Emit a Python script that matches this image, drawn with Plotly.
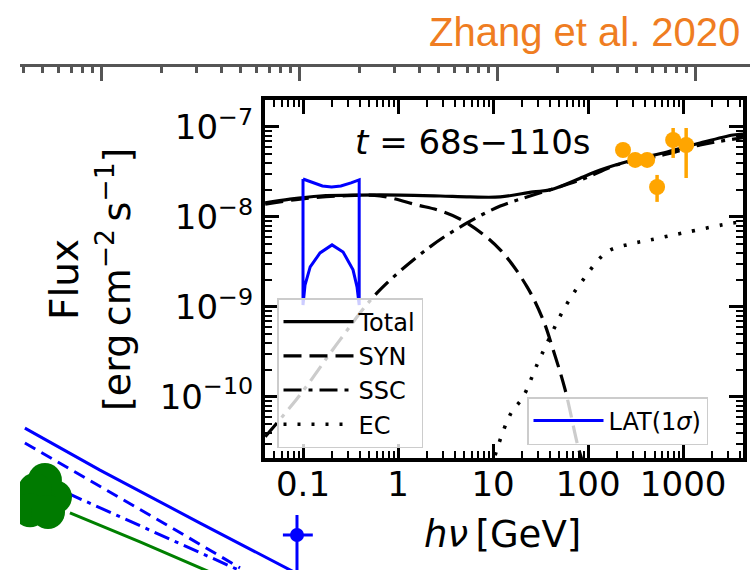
import plotly.graph_objects as go

# ---- model SED components (E in GeV, flux in erg cm^-2 s^-1) ----
total_E = [0.04, 0.073, 0.151, 0.398, 1.05, 2.77, 5.73, 11.9, 26.4, 39.8, 88.5, 134, 298, 679, 1510, 3357, 4266]
total_F = [1.43e-8, 1.58e-8, 1.71e-8, 1.75e-8, 1.75e-8, 1.71e-8, 1.67e-8, 1.67e-8, 1.90e-8, 2.0e-8,
           2.78e-8, 3.33e-8, 4.30e-8, 5.27e-8, 6.64e-8, 8.15e-8, 8.36e-8]

syn_E = [0.04, 0.093, 0.245, 0.647, 1.58, 2.77, 5.32, 11.9, 22.8, 33.6, 42.9, 57.3, 78.5, 89.1]
syn_F = [1.39e-8, 1.58e-8, 1.71e-8, 1.71e-8, 1.36e-8, 1.17e-8, 8.57e-9, 4.30e-9, 1.67e-9, 7.18e-10,
         3.33e-10, 1.20e-10, 2.78e-11, 1.78e-11]

ssc_E = [0.04, 0.093, 0.245, 0.601, 2.17, 5.32, 11.9, 26.4, 88.5, 202, 679, 1510, 4266]
ssc_F = [3.6e-11, 1.05e-10, 4.30e-10, 1.43e-9, 4.65e-9, 8.57e-9, 1.32e-8, 1.75e-8, 2.64e-8, 3.8e-8,
         5.0e-8, 6.31e-8, 7.6e-8]

ec_E = [10.5, 15.1, 20.7, 29.0, 39.8, 57.3, 88.5, 158, 277, 450, 1000, 3357, 4266]
ec_F = [2.24e-11, 6.3e-11, 1.0e-10, 2.27e-10, 4.65e-10, 1.0e-9, 2.0e-9, 4.08e-9, 5.0e-9, 5.55e-9,
        6.64e-9, 8.57e-9, 8.79e-9]

# ---- LAT 1-sigma butterfly ----
lat_E_upper = [0.1, 0.13, 0.16, 0.2, 0.25, 0.32, 0.39]
lat_F_upper = [2.64e-8, 2.39e-8, 2.21e-8, 2.15e-8, 2.21e-8, 2.39e-8, 2.58e-8]
lat_E_lower = [0.39, 0.37, 0.336, 0.264, 0.202, 0.151, 0.119, 0.105, 0.1]
lat_F_lower = [1.05e-9, 1.67e-9, 2.58e-9, 4.08e-9, 4.89e-9, 3.98e-9, 2.78e-9, 1.75e-9, 1.05e-9]

# ---- VHE data points ----
obs_E = [233, 313, 418, 532, 785, 1076]
obs_F = [5.55e-8, 4.30e-8, 4.30e-8, 2.15e-8, 7.17e-8, 6.31e-8]
obs_F_hi = [6.2e-8, 4.8e-8, 4.8e-8, 2.93e-8, 9.75e-8, 9.75e-8]
obs_F_lo = [5.0e-8, 3.9e-8, 3.9e-8, 1.47e-8, 4.53e-8, 2.71e-8]

# ---- axis ticks ----
x_tickvals = [0.1, 1, 10, 100, 1000]
x_ticktext = ["0.1", "1", "10", "100", "1000"]
y_tickvals = [1e-10, 1e-9, 1e-8, 1e-7]
y_ticktext = ["10<sup>−10</sup>", "10<sup>−9</sup>", "10<sup>−8</sup>", "10<sup>−7</sup>"]

# ---- panel underneath (light curve behind the SED) ----
bg_solid_x = [0.408, 0.977, 3.13, 10.0]
bg_solid_y = [2.45e-4, 9.3e-5, 2.75e-5, 8.3e-6]
bg_dash_x = [0.408, 0.977, 2.13, 4.98]
bg_dash_y = [1.74e-4, 6.46e-5, 2.63e-5, 9.8e-6]
bg_dashdot_x = [0.666, 1.748, 5.59]
bg_dashdot_y = [5.5e-5, 2.34e-5, 8.3e-6]
bg_green_x = [0.689, 1.556, 3.51]
bg_green_y = [3.47e-5, 1.78e-5, 8.9e-6]
bg_blob_x = [0.579, 0.515, 0.459, 0.433, 0.534]
bg_blob_y = [5.0e-5, 7.4e-5, 5.9e-5, 3.7e-5, 3.55e-5]
bg_pt_x = [9.66]
bg_pt_y = [2.09e-5]

W, H = 753, 570
FONT = "DejaVu Sans"
THIN = "\u2009"


def minor_vals(lo, hi):
    vals = []
    for k in range(lo, hi + 1):
        for m in range(2, 10):
            vals.append(m * 10.0 ** k)
    return vals


fig = go.Figure()

# underlying panel
bg_common = dict(xaxis="x2", yaxis="y2", mode="lines", showlegend=False, hoverinfo="skip")
fig.add_trace(go.Scatter(x=bg_green_x, y=bg_green_y, line=dict(color="#008000", width=3), **bg_common))
fig.add_trace(go.Scatter(x=bg_solid_x, y=bg_solid_y, line=dict(color="#0000ff", width=3), **bg_common))
fig.add_trace(go.Scatter(x=bg_dash_x, y=bg_dash_y, line=dict(color="#0000ff", width=3, dash="12px,7px"), **bg_common))
fig.add_trace(go.Scatter(x=bg_dashdot_x, y=bg_dashdot_y, line=dict(color="#0000ff", width=3, dash="16px,6px,4px,6px"), **bg_common))
fig.add_trace(go.Scatter(x=bg_blob_x, y=bg_blob_y, xaxis="x2", yaxis="y2", mode="markers",
                         marker=dict(color="#007a00", size=34), showlegend=False, hoverinfo="skip"))
fig.add_trace(go.Scatter(x=bg_pt_x, y=bg_pt_y, xaxis="x2", yaxis="y2", mode="markers",
                         marker=dict(color="#0000ff", size=14),
                         error_x=dict(type="data", array=[1.95], arrayminus=[1.46], color="#0000ff", thickness=3, width=0),
                         error_y=dict(type="data", array=[1.22e-5], arrayminus=[1.5e-5], color="#0000ff", thickness=3, width=0),
                         showlegend=False, hoverinfo="skip"))

# SED model curves
fig.add_trace(go.Scatter(x=total_E, y=total_F, mode="lines", name="Total", line_shape="spline",
                         line=dict(color="black", width=3.2)))
fig.add_trace(go.Scatter(x=syn_E, y=syn_F, mode="lines", name="SYN", line_shape="spline",
                         line=dict(color="black", width=3.2, dash="18px,8px")))
fig.add_trace(go.Scatter(x=ssc_E, y=ssc_F, mode="lines", name="SSC", line_shape="spline",
                         line=dict(color="black", width=3.2, dash="18px,7px,4px,7px")))
fig.add_trace(go.Scatter(x=ec_E, y=ec_F, mode="lines", name="EC", line_shape="spline",
                         line=dict(color="black", width=3.6, dash="3px,11px")))

lat_E = lat_E_upper + lat_E_lower + [lat_E_upper[0]]
lat_F = lat_F_upper + lat_F_lower + [lat_F_upper[0]]
fig.add_trace(go.Scatter(x=lat_E, y=lat_F, mode="lines", name="LAT(1<i>σ</i>)", legend="legend2",
                         line=dict(color="#0000ff", width=3)))

err_plus = [h - f for h, f in zip(obs_F_hi, obs_F)]
err_minus = [f - l for f, l in zip(obs_F, obs_F_lo)]
fig.add_trace(go.Scatter(x=obs_E, y=obs_F, mode="markers", showlegend=False,
                         marker=dict(color="#ffa500", size=16),
                         error_y=dict(type="data", array=err_plus, arrayminus=err_minus,
                                      color="#ffa500", thickness=3.5, width=0)))

x0, x1 = 265 / W, 743 / W
y0, y1 = 1 - 458 / H, 1 - 100 / H

axis_common = dict(showline=True, linecolor="black", linewidth=4, mirror="allticks",
                   ticks="inside", ticklen=14, tickwidth=2.5, tickcolor="black",
                   showgrid=False, zeroline=False,
                   tickfont=dict(family=FONT, size=34, color="black"))

legend_common = dict(xanchor="left", yanchor="top", itemwidth=70,
                     bgcolor="rgba(255,255,255,0.8)", bordercolor="#cccccc", borderwidth=1.5,
                     font=dict(family=FONT, size=24, color="black"))

fig.update_layout(
    width=W, height=H,
    margin=dict(l=0, r=0, t=0, b=0),
    paper_bgcolor="white", plot_bgcolor="rgba(0,0,0,0)",
    xaxis=dict(type="log", domain=[x0, x1], range=[-1.4, 3.63], anchor="y",
               tickmode="array", tickvals=x_tickvals, ticktext=x_ticktext,
               ticklabelstandoff=-7,
               minor=dict(tickmode="array", tickvals=minor_vals(-2, 3), ticks="inside",
                          ticklen=7, tickwidth=1.5, tickcolor="black", showgrid=False),
               **axis_common),
    yaxis=dict(type="log", domain=[y0, y1], range=[-10.68, -6.7], anchor="x",
               tickmode="array", tickvals=y_tickvals, ticktext=y_ticktext,
               ticklabelstandoff=1,
               minor=dict(tickmode="array", tickvals=minor_vals(-11, -7), ticks="inside",
                          ticklen=7, tickwidth=1.5, tickcolor="black", showgrid=False),
               **axis_common),
    xaxis2=dict(type="log", domain=[20 / W, 750 / W], range=[-0.414, 3.273], anchor="y2",
                side="top", showline=True, linecolor="#555555", linewidth=3,
                ticks="inside", ticklen=14, tickwidth=3, tickcolor="#555555",
                tickmode="array", tickvals=[1, 10, 100, 1000], showticklabels=False,
                minor=dict(tickmode="array", tickvals=minor_vals(-1, 3), ticks="inside",
                           ticklen=6, tickwidth=3, tickcolor="#555555", showgrid=False),
                showgrid=False, zeroline=False),
    yaxis2=dict(type="log", domain=[0, 1 - 67 / H], range=[-5.03, 0], anchor="x2",
                visible=False, showgrid=False, zeroline=False),
    legend=dict(x=277 / W, y=1 - 298 / H, tracegroupgap=0, **legend_common),
    legend2=dict(x=527 / W, y=1 - 397 / H, **legend_common),
    showlegend=True,
)

annotations = [
    dict(text="<i>t</i> = 68s−110s", x=473 / W, y=1 - 142 / H, xref="paper", yref="paper",
         showarrow=False, font=dict(family=FONT, size=34, color="black"),
         xanchor="center", yanchor="middle"),
    dict(text="<i>hν</i>" + THIN + "[GeV]", x=503 / W, y=1 - 534 / H, xref="paper", yref="paper",
         showarrow=False, font=dict(family=FONT, size=37, color="black"),
         xanchor="center", yanchor="middle"),
    dict(text="Flux", x=64 / W, y=1 - 279 / H, xref="paper", yref="paper", textangle=-90,
         showarrow=False, font=dict(family=FONT, size=39, color="black"),
         xanchor="center", yanchor="middle"),
    dict(text="[erg" + THIN + "cm<sup>−2</sup>" + THIN + "s<sup>−1</sup>]", x=114 / W, y=1 - 280 / H,
         xref="paper", yref="paper", textangle=-90,
         showarrow=False, font=dict(family=FONT, size=38, color="black"),
         xanchor="center", yanchor="middle"),
    dict(text="Zhang et al. 2020", x=742 / W, y=1 - 32 / H, xref="paper", yref="paper",
         showarrow=False, font=dict(family="Liberation Sans, Arial", size=40, color="#ef7d22"),
         xanchor="right", yanchor="middle"),
]
fig.update_layout(annotations=annotations)

fig.write_html("out.html")
